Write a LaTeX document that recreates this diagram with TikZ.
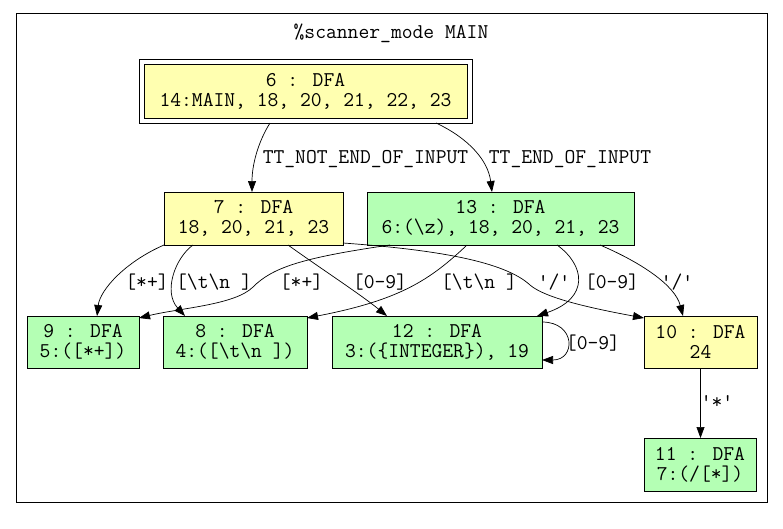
\documentclass[tikz,border=0pt]{standalone}
\usepackage{fontspec}
\usetikzlibrary{arrows.meta,fit}
\definecolor{dfay}{HTML}{FFFFB0}
\definecolor{dfag}{HTML}{B4FFB4}
\newcommand\sq{\textquotesingle}
\newcommand\bs{\textbackslash}
\tikzset{
 dfa/.style={draw, line width=0.8pt, inner sep=0pt, outer sep=0pt, align=center, font=\ttfamily\fontsize{21}{20}\selectfont},
 yel/.style={dfa, fill=dfay},
 grn/.style={dfa, fill=dfag},
 lbl/.style={font=\ttfamily\fontsize{21}{20}\selectfont, inner sep=0pt},
 edge/.style={draw, line width=0.7pt, -{Triangle[length=11pt,width=8pt]}},
}
\begin{document}
\begin{tikzpicture}[x=1pt,y=-1pt]
\useasboundingbox (0,0) rectangle (783,528);
\fill[white] (0,0) rectangle (783,528);
\node[draw, line width=0.8pt, minimum width=751pt, minimum height=489pt, inner sep=0pt] (frame) at (391.5,257.5) {};
\node[lbl] (title) at (391,33) {\%scanner\_mode MAIN};

\node[yel, minimum width=323pt, minimum height=54pt] (n6) at (305.5,91) {6 : DFA\\14:MAIN, 18, 20, 21, 22, 23};
\node[draw, line width=0.8pt, fit=(n6), inner sep=5pt, outer sep=0pt] (n6o) {};
\node[yel, minimum width=179pt, minimum height=53pt] (n7) at (253.5,218.5) {7 : DFA\\18, 20, 21, 23};
\node[grn, minimum width=267pt, minimum height=53pt] (n13) at (500.5,218.5) {13 : DFA\\6:(\bs z), 18, 20, 21, 23};
\node[grn, minimum width=112pt, minimum height=52pt] (n9) at (83,342) {9 : DFA\\5:([*+])};
\node[grn, minimum width=144pt, minimum height=52pt] (n8) at (235,342) {8 : DFA\\4:([\bs t\bs n ])};
\node[grn, minimum width=210pt, minimum height=52pt] (n12) at (437,342) {12 : DFA\\3:(\{INTEGER\}), 19};
\node[yel, minimum width=113pt, minimum height=52pt] (n10) at (700.5,342) {10 : DFA\\24};
\node[grn, minimum width=112pt, minimum height=53pt] (n11) at (700,464.5) {11 : DFA\\7:(/[*])};

\draw[edge] ([xshift=-35.5pt]n6o.south) .. controls (258,142) and (252,165) .. ([xshift=-1.5pt]n7.north);
\draw[edge] ([xshift=130.5pt]n6o.south) .. controls (468,138) and (488,160) .. ([xshift=-8.5pt]n13.north);
\draw[edge] (n7.south west) .. controls (125,262) and (100,290) .. ([xshift=14pt]n9.north);
\draw[edge] ([xshift=-60.5pt]n7.south) .. controls (175,258) and (163,292) .. ([xshift=-50pt]n8.north);
\draw[edge] ([xshift=34.5pt]n7.south) .. controls (320,268) and (360,294) .. ([xshift=-50pt]n12.north);
\draw[edge] ([yshift=2pt]n7.south east) .. controls (440,250) and (505,262) .. (530,285) .. controls (545,298) and (590,308) .. ([yshift=-2pt]n10.north west);
\draw[edge] ([xshift=23pt]n13.south west) .. controls (300,258) and (272,268) .. (253,287) .. controls (235,305) and (180,308) .. ([yshift=-2pt]n9.north east);
\draw[edge] ([xshift=-33.5pt]n13.south) .. controls (430,280) and (400,300) .. ([yshift=-2pt]n8.north east);
\draw[edge] ([xshift=56.5pt]n13.south) .. controls (585,265) and (590,298) .. ([xshift=-5pt]n12.north east);
\draw[edge] ([xshift=99.5pt]n13.south) .. controls (640,262) and (675,285) .. ([xshift=-17.5pt]n10.north);
\draw[edge] ([yshift=-6pt]n12.north east) .. controls (576,322) and (576,360) .. ([yshift=8pt]n12.south east);
\draw[edge] (n10.south) -- (n10.south |- n11.north);

\node[lbl] (l1) at (365.5,159) {TT\_NOT\_END\_OF\_INPUT};
\node[lbl] (l2) at (570,159) {TT\_END\_OF\_INPUT};
\node[lbl] (l3) at (147,282) {[*+]};
\node[lbl] (l4) at (214,282) {[\bs t\bs n ]};
\node[lbl] (l5) at (301.5,282) {[*+]};
\node[lbl] (l6) at (380,282) {[0-9]};
\node[lbl] (l7) at (479,282) {[\bs t\bs n ]};
\node[lbl] (l8) at (554,282) {\sq/\sq};
\node[lbl] (l9) at (612,282) {[0-9]};
\node[lbl] (l10) at (677,282) {\sq/\sq};
\node[lbl] (l11) at (593,343) {[0-9]};
\node[lbl] (l12) at (717,402) {\sq*\sq};
\end{tikzpicture}
\end{document}
